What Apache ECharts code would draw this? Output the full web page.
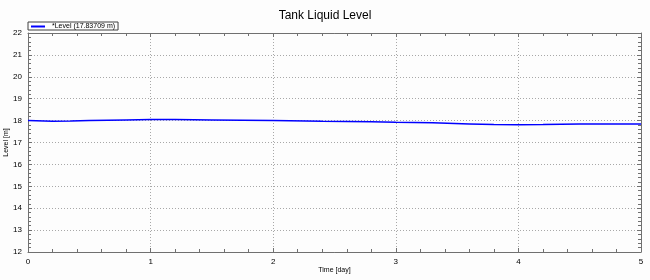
<!DOCTYPE html>
<html><head><meta charset="utf-8">
<script src="https://cdn.jsdelivr.net/npm/echarts@6/dist/echarts.min.js"></script>
<style>html,body{margin:0;padding:0;background:#fdfdfd}#c{width:650px;height:280px}</style>
</head><body><div id="c"></div>
<script>
var days =   [0,    0.2,   0.35,  0.5,   0.8,   1.0,   1.2,   1.5,   2.0,   2.4,   2.8,   3.0,   3.3,   3.6,   3.8,   4.0,   4.2,   4.5,   5.0];
var levels = [18.00,17.97, 17.98, 18.00, 18.03, 18.05, 18.05, 18.03, 18.00, 17.97, 17.95, 17.92, 17.90, 17.85, 17.82, 17.81, 17.82, 17.85, 17.84];
var seriesName = '*Level (17.83709 m)';
var titleText = 'Tank Liquid Level';
var xName = 'Time [day]';
var yName = 'Level [m]';

var chart = echarts.init(document.getElementById('c'), null, {renderer:'canvas'});
var fnt = 'Liberation Sans, Arial, sans-serif';
var axisCol = '#707070';
var gridLine = {show:true, lineStyle:{color:'#a8a8a8', type:[1,2], width:1}};
function frameAxis(pos, isX){
  return {
    type:'value', position:pos, min: isX?0:12, max: isX?5:22, interval:1,
    axisLine:{show:true, onZero:false, lineStyle:{color:axisCol}},
    axisTick:{show:true, inside:true, length:4, lineStyle:{color:axisCol}},
    minorTick:{show:true, splitNumber:5, length:3, lineStyle:{color:axisCol}},
    axisLabel:{show:false}, splitLine:{show:false}
  };
}
var data = days.map(function(d,i){return [d, levels[i]];});
chart.setOption({
  backgroundColor:'#fdfdfd',
  animation:false,
  title:{text:titleText, left:'center', top:5, textStyle:{fontFamily:fnt, fontSize:12, fontWeight:'normal', color:'#000'}},
  legend:{left:28, top:22, data:[seriesName], icon:'rect', itemWidth:14, itemHeight:2, itemGap:4,
    borderColor:'#404040', borderWidth:1, padding:[1,3,0,3],
    textStyle:{fontFamily:fnt, fontSize:7, color:'#000', padding:[0,0,0,2]}},
  grid:{left:28, right:9, top:33, bottom:28, containLabel:false, outerBoundsMode:'none'},
  xAxis:[{
    type:'value', min:0, max:5, interval:1, position:'bottom',
    name:xName, nameLocation:'middle', nameGap:15, nameMoveOverlap:false, nameTextStyle:{fontFamily:fnt, fontSize:7, color:'#000'},
    axisLine:{show:true, onZero:false, lineStyle:{color:axisCol}},
    axisTick:{show:true, inside:true, length:4, lineStyle:{color:axisCol}},
    minorTick:{show:true, splitNumber:5, length:3, lineStyle:{color:axisCol}},
    axisLabel:{fontFamily:fnt, fontSize:8, color:'#000', margin:6},
    splitLine:gridLine
  }, frameAxis('top', true)],
  yAxis:[{
    type:'value', min:12, max:22, interval:1, position:'left',
    name:yName, nameLocation:'middle', nameGap:18, nameRotate:90, nameMoveOverlap:false, nameTextStyle:{fontFamily:fnt, fontSize:7, color:'#000'},
    axisLine:{show:true, onZero:false, lineStyle:{color:axisCol}},
    axisTick:{show:true, inside:true, length:4, lineStyle:{color:axisCol}},
    minorTick:{show:true, splitNumber:5, length:3, lineStyle:{color:axisCol}},
    axisLabel:{fontFamily:fnt, fontSize:8, color:'#000', margin:6},
    splitLine:gridLine
  }, frameAxis('right', false)],
  series:[{
    name:seriesName, type:'line', data:data, showSymbol:false, symbol:'none',
    lineStyle:{color:'#0000ff', width:1.5}, itemStyle:{color:'#0000ff'}
  }]
});
</script></body></html>
